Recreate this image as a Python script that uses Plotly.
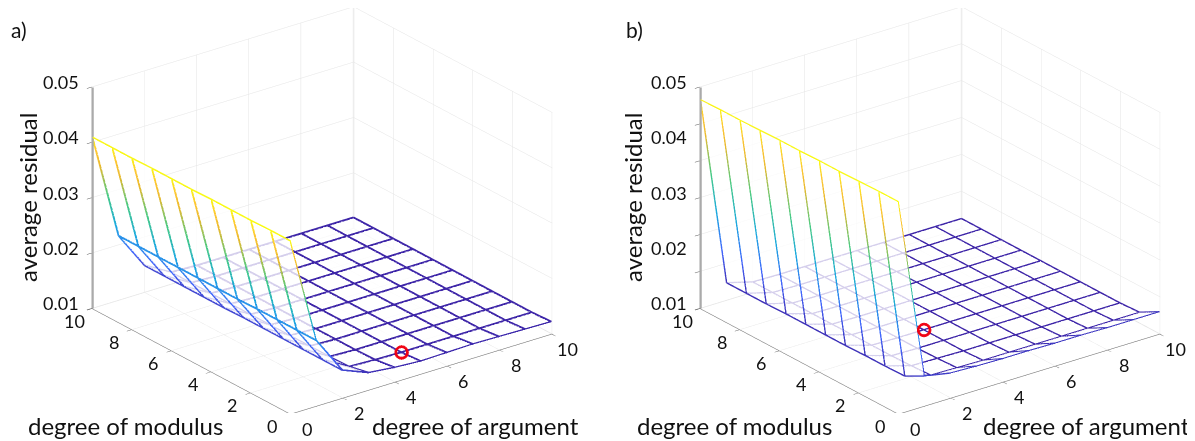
import numpy as np
import plotly.graph_objects as go

degree = list(range(11))
# rows: degree of modulus 0..10, columns: degree of argument 0..10
z_a = [
 [.0412,.0218,.0150,.0131,.0126,.0123,.0124,.0125,.0124,.0123,.0122],
 [.0412,.0218,.0150,.0123,.0121,.0120,.0120,.0120,.0120,.0120,.0120],
 [.0411,.0218,.0150,.0122,.0120,.0120,.0120,.0120,.0120,.0120,.0120],
 [.0411,.0218,.0150,.0122,.0120,.0120,.0120,.0120,.0120,.0120,.0120],
 [.0411,.0217,.0150,.0122,.0120,.0120,.0120,.0120,.0120,.0120,.0120],
 [.0410,.0217,.0150,.0122,.0120,.0120,.0120,.0120,.0120,.0120,.0120],
 [.0410,.0217,.0149,.0122,.0120,.0120,.0120,.0120,.0120,.0120,.0120],
 [.0410,.0217,.0149,.0122,.0120,.0120,.0120,.0120,.0120,.0120,.0120],
 [.0409,.0217,.0149,.0122,.0120,.0120,.0120,.0120,.0120,.0120,.0120],
 [.0409,.0217,.0149,.0122,.0120,.0120,.0120,.0120,.0120,.0120,.0120],
 [.0409,.0217,.0149,.0122,.0120,.0120,.0120,.0120,.0120,.0120,.0120],
]
z_b = [
 [.0483,.0154,.0145,.0143,.0142,.0142,.0141,.0141,.0140,.0140,.0140],
 [.0483,.0135,.0122,.0121,.0120,.0120,.0120,.0120,.0120,.0120,.0120],
 [.0482,.0134,.0120,.0119,.0118,.0118,.0118,.0118,.0118,.0118,.0118],
 [.0481,.0134,.0119,.0118,.0118,.0118,.0118,.0118,.0118,.0118,.0118],
 [.0481,.0133,.0119,.0118,.0118,.0118,.0118,.0118,.0118,.0118,.0118],
 [.0480,.0133,.0119,.0118,.0118,.0118,.0118,.0118,.0118,.0118,.0118],
 [.0480,.0133,.0119,.0118,.0118,.0118,.0118,.0118,.0118,.0118,.0118],
 [.0479,.0133,.0119,.0118,.0118,.0118,.0118,.0118,.0118,.0118,.0118],
 [.0478,.0132,.0119,.0118,.0118,.0118,.0118,.0118,.0118,.0118,.0118],
 [.0478,.0132,.0119,.0118,.0118,.0118,.0118,.0118,.0118,.0118,.0118],
 [.0477,.0132,.0119,.0118,.0118,.0118,.0118,.0118,.0118,.0118,.0118],
]
best_a = (5, 1)  # degree of argument, degree of modulus
best_b = (4, 4)
xy_ticks = [0, 2, 4, 6, 8, 10]
z_ticks_a = [.01, .02, .03, .04, .05]
z_label_text = ["0.01", "0.02", "0.03", "0.04", "0.05"]

parula = [[0, "#3e26a8"], [.2, "#4367fd"], [.4, "#1caadf"], [.6, "#48cb86"],
          [.8, "#eaba30"], [.9, "#fec735"], [1, "#f9fb15"]]
FONT = "Lato, Carlito, sans-serif"
OFF = 8  # the page's own margin
W, H = 1195 - OFF, 441 - OFF
XR = [-.02, 10.02]; ZR = [.01, .05]
PX = 331.0           # screen pixels per normalised x/y box length
ASPZ = .736
ZOOM = 1.624
V = np.array([-.553, -.729, .404]); V = V / np.linalg.norm(V)
DIST = 2.0
unit = np.array([10.04, 10.04, (ZR[1]-ZR[0]) / ASPZ])

def ribbons(segs, w):
    """quads facing the viewer around each mesh edge, so edges keep a pixel width"""
    vx, vy, vz, val, I, J, K = [], [], [], [], [], [], []
    lift = V * .002 * unit
    for p, q in segs:
        p, q = np.array(p, float), np.array(q, float)
        d = (q - p) / unit
        n = np.cross(d, V); n = n / np.linalg.norm(n) * (w / 2 / PX) * unit
        c = len(vx)
        for pt in (p + n + lift, p - n + lift, q - n + lift, q + n + lift):
            vx.append(pt[0]); vy.append(pt[1]); vz.append(pt[2])
        val += [p[2], p[2], q[2], q[2]]
        I += [c, c]; J += [c+1, c+2]; K += [c+2, c+3]
    return vx, vy, vz, val, I, J, K

def panel(fig, z, width, scene):
    z = np.array(z)
    fig.add_trace(go.Surface(x=degree, y=degree, z=z, scene=scene, showscale=False, hoverinfo="skip",
        colorscale=[[0, "white"], [1, "white"]], opacity=0.78,
        lighting=dict(ambient=1, diffuse=0, specular=0, fresnel=0, roughness=1)))
    segs = []
    for m in degree:
        for a in degree[:-1]:
            segs.append(((a, m, z[m, a]), (a+1, m, z[m, a+1])))
    for a in degree:
        for m in degree[:-1]:
            segs.append(((a, m, z[m, a]), (a, m+1, z[m+1, a])))
    vx, vy, vz, val, I, J, K = ribbons(segs, width)
    fig.add_trace(go.Mesh3d(x=vx, y=vy, z=vz, i=I, j=J, k=K, intensity=val, intensitymode="vertex",
        colorscale=parula, cmin=z.min(), cmax=z.max(), showscale=False, scene=scene, hoverinfo="skip",
        flatshading=False, lighting=dict(ambient=1, diffuse=0, specular=0, fresnel=0, roughness=1)))
    # the grey vertical axis edge
    vx, vy, vz, val, I, J, K = ribbons([((0, 10, ZR[0]), (0, 10, ZR[1]))], 2.5)
    fig.add_trace(go.Mesh3d(x=vx, y=vy, z=vz, i=I, j=J, k=K, color="#aaaaaa", scene=scene, hoverinfo="skip",
        lighting=dict(ambient=1, diffuse=0, specular=0, fresnel=0, roughness=1)))

ring_sizes = [13, 14, 15, 16]
def marker(fig, z, best, scene):
    z = np.array(z)
    n = len(ring_sizes)
    fig.add_trace(go.Scatter3d(x=[best[0]]*n, y=[best[1]]*n, z=[z[best[1], best[0]]]*n, mode="markers",
        scene=scene, showlegend=False, hoverinfo="skip",
        marker=dict(symbol="circle-open", size=ring_sizes, color="#f00010", line=dict(color="#f00010", width=3))))

fig = go.Figure()
panel(fig, z_a, 2.0, "scene")
panel(fig, z_b, 1.5, "scene2")
marker(fig, z_a, best_a, "scene3")
marker(fig, z_b, best_b, "scene4")

def axis(vals, rng):
    return dict(range=rng, autorange=False, tickvals=vals, ticktext=[""]*len(vals), title=dict(text=""),
        showbackground=False, showgrid=True, gridcolor="#e4e4e4", gridwidth=1,
        showline=True, linecolor="#666666", linewidth=1, zeroline=False,
        ticks="outside", ticklen=6, tickcolor="#555555", tickwidth=1,
        tickfont=dict(family=FONT, size=18, color="#111111"), showspikes=False)

def scene(domx, ztickvals):
    e = V * DIST
    return dict(domain=dict(x=[domx[0]/W, domx[1]/W], y=[(H-405)/H, 1.0]),
        xaxis=axis(xy_ticks, XR), yaxis=axis(xy_ticks, XR),
        zaxis={**axis(ztickvals, ZR), "linecolor": "#aaaaaa"},
        aspectmode="manual", aspectratio=dict(x=ZOOM, y=ZOOM, z=ASPZ*ZOOM),
        camera=dict(projection=dict(type="orthographic"), eye=dict(x=e[0], y=e[1], z=e[2]),
                    center=dict(x=0, y=0, z=0), up=dict(x=0, y=0, z=1)))

def overlay(base):
    hid = dict(visible=False, showgrid=False, showline=False, zeroline=False, showticklabels=False, ticks="", showspikes=False)
    out = dict(base)
    out["xaxis"] = {**hid, "range": XR, "autorange": False}
    out["yaxis"] = {**hid, "range": XR, "autorange": False}
    out["zaxis"] = {**hid, "range": ZR, "autorange": False}
    out["bgcolor"] = "rgba(0,0,0,0)"
    return out

def labels(xs=-31):
    f = dict(family=FONT, size=18, color="#111111")
    ann = []
    for v, t in zip(z_ticks_a, z_label_text):
        ann.append(dict(x=XR[0], y=XR[1], z=v, text=t, showarrow=False, xshift=xs, yshift=5, font=f))
    for v in xy_ticks:
        ann.append(dict(x=v, y=XR[0], z=ZR[0], text=str(v), showarrow=False, xshift=16, yshift=-15, font=f))
        ann.append(dict(x=XR[0], y=v, z=ZR[0], text=str(v), showarrow=False, xshift=-18, yshift=-12, font=f))
    return ann

zb_ticks = [.01 + .04*i/6 for i in range(7)]
DA, DB = (0, 628), (658, 1186)
sa = scene(DA, z_ticks_a); sa["annotations"] = labels()
sb = scene(DB, zb_ticks); sb["annotations"] = labels()
fig.update_layout(width=W, height=H, margin=dict(l=0, r=0, t=0, b=0), paper_bgcolor="white",
    showlegend=False, scene=sa, scene2=sb, scene3=overlay(scene(DA, z_ticks_a)),
    scene4=overlay(scene(DB, zb_ticks)), font=dict(family=FONT))

def txt(x, y, s, size, angle=0):
    fig.add_annotation(x=(x-OFF)/W, y=1-(y-OFF)/H, xref="paper", yref="paper", text=s, showarrow=False,
        textangle=angle, font=dict(family=FONT, size=size, color="#111111"), xanchor="center", yanchor="middle")
for x0, lab in ((19, "a)"), (634, "b)")):
    txt(x0, 30, lab, 21)
txt(27, 198, "average residual", 24, -90)
txt(632, 198, "average residual", 24, -90)
txt(125, 425, "degree of modulus", 24)
txt(475, 425, "degree of argument", 24)
txt(734, 425, "degree of modulus", 24)
txt(1086, 425, "degree of argument", 24)
fig.write_html("out.html")
